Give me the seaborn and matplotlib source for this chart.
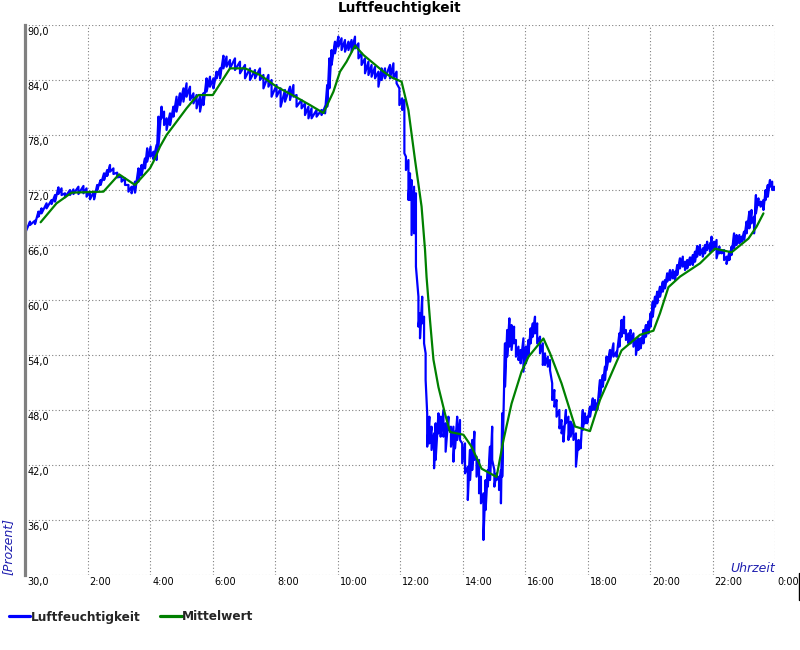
import matplotlib
matplotlib.use("Agg")
import matplotlib.pyplot as plt
from matplotlib.lines import Line2D
import seaborn as sns
import pandas as pd

# ---------------- data ----------------
# Luftfeuchtigkeit: hour of day, upper and lower edge of the noisy trace
blue_hours = [
    0.00, 0.16, 0.32, 0.43, 0.53, 0.69, 0.85, 0.96, 1.07, 1.17, 1.28, 1.44, 1.55, 1.71, 1.87, 1.97,
    2.08, 2.21, 2.31, 2.42, 2.53, 2.63, 2.72, 2.83, 2.95, 3.09, 3.20, 3.31, 3.41, 3.52, 3.63, 3.73,
    3.84, 3.91, 4.02, 4.11, 4.21, 4.27, 4.37, 4.45, 4.53, 4.64, 4.75, 4.85, 4.96, 5.07, 5.17, 5.28,
    5.39, 5.49, 5.60, 5.71, 5.81, 5.92, 6.03, 6.13, 6.24,
    6.35, 6.45, 6.56, 6.72, 6.88, 7.04, 7.20, 7.36, 7.52, 7.63, 7.79, 7.89, 8.05, 8.18, 8.32, 8.48,
    8.59, 8.69, 8.85, 8.96, 9.07, 9.17, 9.33, 9.49, 9.60, 9.67, 9.74, 9.81, 9.92, 10.03, 10.13, 10.24,
    10.35, 10.45, 10.56, 10.67, 10.77, 10.88, 10.99, 11.09, 11.20, 11.31, 11.41, 11.52, 11.68, 11.79,
    11.89, 11.98,
    12.07, 12.14, 12.19, 12.27, 12.32, 12.37, 12.45, 12.51, 12.59, 12.64, 12.71, 12.77, 12.82, 12.87,
    12.94, 13.01, 13.09, 13.14, 13.23, 13.30, 13.39, 13.46, 13.55, 13.63, 13.71, 13.76, 13.83, 13.92,
    13.99, 14.08, 14.17, 14.24, 14.31, 14.38, 14.45, 14.53, 14.59, 14.67, 14.74, 14.81, 14.88, 14.95,
    15.02, 15.09, 15.17, 15.23, 15.27,
    15.36, 15.43, 15.50, 15.57, 15.65, 15.71, 15.79, 15.86, 15.95, 16.03, 16.11, 16.18, 16.25, 16.32,
    16.39, 16.48, 16.57, 16.64, 16.73, 16.80, 16.87, 16.94, 17.01, 17.10, 17.17, 17.23, 17.31, 17.39,
    17.46, 17.55, 17.63, 17.71, 17.78, 17.85, 17.92, 17.99, 18.08, 18.17, 18.24, 18.31, 18.40, 18.49,
    18.56,
    18.61, 18.72, 18.83, 18.93, 19.02, 19.09, 19.17, 19.23, 19.31, 19.38, 19.47, 19.55, 19.63, 19.70,
    19.79, 19.87, 19.95, 20.02, 20.09, 20.16, 20.23, 20.32, 20.41, 20.48, 20.55, 20.64, 20.73, 20.80,
    20.87, 20.96, 21.05, 21.12, 21.19, 21.28, 21.37, 21.44, 21.51, 21.60, 21.69, 21.76, 21.83, 21.92,
    21.97, 22.05, 22.13, 22.22, 22.29, 22.37, 22.45, 22.54, 22.61, 22.69, 22.77, 22.86, 22.93, 23.01,
    23.09, 23.18, 23.25, 23.33, 23.39, 23.47, 23.54, 23.63, 23.70, 23.77, 23.84, 23.91, 23.97,
]
blue_upper = [
    67.82, 68.55, 68.66, 69.64, 70.00, 70.55, 70.91, 71.45, 72.29, 72.18, 71.64, 72.00, 72.07, 72.36, 72.44, 72.18,
    71.82, 71.82, 72.55, 73.09, 73.82, 74.18, 74.73, 74.36, 73.89, 73.45, 73.27, 72.55, 72.36, 72.91, 74.36, 74.73,
    75.45, 76.55, 76.73, 76.18, 76.91, 80.00, 81.09, 80.55, 79.82, 80.36, 81.09, 82.18, 82.55, 83.09, 83.64, 83.27,
    82.55, 82.36, 82.18, 82.55, 84.18, 84.36, 84.18, 84.91, 85.27,
    86.65, 86.55, 86.18, 86.36, 86.00, 85.64, 85.27, 85.09, 85.27, 84.55, 84.55, 84.00, 83.45, 83.09, 82.91, 83.27,
    83.45, 82.36, 81.82, 81.45, 81.09, 80.91, 80.73, 80.73, 81.09, 83.45, 86.36, 87.27, 88.18, 88.73, 88.55, 88.36,
    88.18, 88.36, 88.73, 88.00, 86.91, 86.36, 86.00, 85.64, 85.45, 84.91, 85.27, 85.27, 85.64, 85.82,
    84.91, 83.09,
    82.00, 81.82, 75.64, 75.27, 73.82, 73.09, 72.36, 71.64, 60.36, 58.55, 60.36, 58.18, 54.18, 47.64,
    47.27, 46.18, 45.45, 46.55, 47.64, 47.27, 48.00, 46.55, 47.27, 46.18, 46.18, 45.64, 47.27, 46.91,
    44.36, 44.36, 41.82, 43.64, 44.73, 45.64, 42.91, 42.55, 40.73, 38.91, 40.36, 41.45, 44.00, 46.18,
    41.45, 41.09, 40.73, 41.45, 47.64,
    55.27, 56.73, 58.00, 57.27, 57.09, 55.64, 54.91, 54.55, 55.82, 54.91, 55.64, 56.91, 57.45, 58.18,
    57.45, 56.00, 55.27, 54.18, 53.82, 53.45, 50.91, 50.18, 49.09, 48.00, 46.91, 46.18, 48.00, 47.27,
    46.73, 46.55, 45.45, 44.73, 44.73, 48.00, 47.64, 47.27, 48.36, 49.27, 49.09, 48.73, 51.27, 51.82,
    52.73,
    53.82, 54.55, 55.27, 54.36, 56.36, 57.82, 58.18, 56.73, 56.36, 56.73, 56.36, 55.64, 55.82, 55.82,
    56.73, 57.27, 57.64, 58.55, 59.82, 60.36, 60.91, 61.45, 62.00, 62.18, 62.91, 63.27, 63.27, 63.09,
    63.82, 64.55, 64.73, 64.18, 64.36, 64.65, 64.91, 65.27, 65.89, 66.00, 65.64, 66.00, 66.36, 66.18,
    66.91, 66.36, 66.55, 65.82, 65.45, 65.45, 64.73, 65.27, 65.82, 67.27, 67.09, 67.09, 66.91, 67.45,
    68.55, 69.64, 69.82, 69.09, 71.45, 71.09, 70.73, 70.91, 72.00, 72.55, 73.09, 72.91, 72.36,
]
blue_lower = [
    67.27, 68.18, 68.29, 69.09, 69.45, 70.00, 70.47, 70.73, 71.56, 71.45, 71.20, 71.45, 71.56, 71.56, 71.64, 71.27,
    70.98, 70.98, 72.00, 72.55, 73.09, 73.53, 74.00, 73.75, 73.38, 72.91, 72.55, 71.82, 71.64, 71.71, 72.91, 73.64,
    74.36, 75.09, 75.64, 75.35, 75.27, 76.73, 79.82, 79.09, 78.55, 79.09, 80.00, 80.55, 81.27, 81.64, 82.18, 81.82,
    81.45, 80.91, 80.55, 81.27, 82.73, 83.27, 83.09, 84.18, 84.18,
    85.27, 85.45, 85.27, 85.09, 84.73, 84.18, 84.00, 84.18, 84.00, 83.09, 83.27, 82.18, 82.18, 81.09, 81.64, 81.82,
    82.18, 81.09, 80.91, 80.18, 79.82, 79.82, 80.00, 80.18, 80.36, 81.09, 83.09, 85.64, 86.91, 87.64, 87.27, 87.09,
    87.27, 87.09, 87.45, 86.36, 85.64, 84.73, 84.55, 84.36, 84.18, 83.27, 84.00, 84.18, 84.18, 84.18,
    83.64, 81.27,
    80.73, 76.00, 74.18, 70.91, 70.91, 67.09, 67.27, 63.64, 57.09, 55.82, 57.45, 55.27, 51.27, 44.00,
    44.36, 43.64, 41.64, 42.55, 45.45, 45.09, 45.09, 43.45, 45.82, 44.00, 42.36, 43.82, 44.73, 44.73,
    42.18, 41.09, 38.18, 40.36, 41.45, 42.55, 40.73, 38.91, 37.82, 33.82, 37.09, 39.64, 40.36, 42.55,
    39.64, 40.36, 39.27, 37.82, 40.73,
    50.55, 53.82, 54.91, 54.55, 55.27, 53.82, 53.45, 53.09, 52.18, 53.09, 54.00, 55.27, 56.00, 56.36,
    55.27, 54.18, 52.91, 52.91, 52.73, 52.36, 49.09, 48.36, 47.27, 46.00, 45.45, 44.55, 46.55, 44.73,
    45.09, 44.73, 41.82, 43.64, 43.82, 45.82, 46.55, 46.55, 47.27, 48.00, 48.00, 48.00, 49.45, 50.55,
    51.27,
    52.36, 53.27, 53.82, 53.82, 54.91, 56.00, 56.36, 55.64, 55.27, 55.27, 54.91, 54.00, 54.55, 54.73,
    55.27, 56.00, 56.36, 57.09, 58.18, 59.27, 59.64, 60.36, 60.91, 61.27, 62.00, 62.18, 62.36, 62.18,
    62.73, 63.45, 63.64, 63.27, 63.45, 63.82, 63.82, 64.18, 64.73, 64.91, 64.73, 65.09, 65.45, 65.27,
    65.45, 65.45, 64.55, 65.09, 65.09, 64.36, 63.93, 64.36, 64.91, 65.64, 66.00, 66.18, 66.36, 66.55,
    67.27, 67.82, 68.36, 67.27, 69.45, 70.36, 70.18, 69.82, 70.91, 71.27, 72.36, 72.00, 72.00,
]

# Mittelwert
green_hours = [
    0.50, 1.01, 1.49, 2.51, 3.01, 3.52, 4.00, 4.11, 4.32, 4.53, 4.85, 5.17, 5.39, 5.55, 6.01, 6.56,
    7.04, 7.52, 8.05, 8.59, 9.12, 9.55, 9.87, 10.08, 10.29, 10.56, 10.83, 11.15, 11.47, 11.73, 12.05,
    12.27, 12.48, 12.69, 12.80, 12.85, 12.96, 13.07, 13.23, 13.44, 13.60, 14.03, 14.29, 14.61, 15.09,
    15.31, 15.57, 15.89, 16.11, 16.59, 16.80, 17.17, 17.60, 18.08, 18.40, 19.09, 19.68, 20.11, 20.32,
    20.59, 20.96, 21.60, 22.08, 22.29, 22.61, 23.15, 23.41, 23.63,
]
green_values = [
    68.48, 70.55, 71.71, 71.82, 73.71, 72.55, 74.37, 75.09, 76.73, 78.00, 79.45, 80.91, 81.82, 82.36, 82.36, 85.27,
    85.27, 84.55, 83.27, 82.29, 81.27, 80.40, 82.73, 84.91, 86.00, 87.75, 86.73, 85.82, 84.91, 84.29, 83.82,
    80.70, 75.30, 70.20, 65.50, 62.50, 57.80, 53.50, 50.50, 47.60, 45.60, 45.30, 44.00, 41.60, 40.70,
    44.70, 48.70, 52.20, 53.80, 55.80, 54.20, 50.90, 46.20, 45.70, 49.10, 54.50, 56.20, 56.65, 58.55,
    61.40, 62.55, 64.00, 65.60, 65.45, 65.20, 66.70, 68.00, 69.45,
]

y_ticks = [30, 36, 42, 48, 54, 60, 66, 72, 78, 84, 90]
x_ticks = [0, 2, 4, 6, 8, 10, 12, 14, 16, 18, 20, 22, 24]
x_tick_labels = ["", "2:00", "4:00", "6:00", "8:00", "10:00", "12:00", "14:00",
                 "16:00", "18:00", "20:00", "22:00", "0:00"]

title = "Luftfeuchtigkeit"
series_names = ["Luftfeuchtigkeit", "Mittelwert"]

# ---------------- build long-form tables ----------------
rows_h, rows_v = [], []
for h, up, lo in zip(blue_hours, blue_upper, blue_lower):
    for v in (up, lo):
        rows_h.append(h)
        rows_v.append(v)
df_blue = pd.DataFrame({"Uhrzeit": rows_h, "Wert": rows_v})
df_green = pd.DataFrame({"Uhrzeit": green_hours, "Wert": green_values})

# ---------------- figure ----------------
sns.set_style("white")
plt.rcParams["font.family"] = ["DejaVu Sans"]

fig = plt.figure(figsize=(8, 6.5), dpi=100)
ax = fig.add_axes([25 / 800, 1 - 575 / 650, 750 / 800, 550 / 650])

BLUE = "#0000ff"
GREEN = "#008000"
LABEL_BLUE = "#2020b0"

sns.lineplot(data=df_blue, x="Uhrzeit", y="Wert", estimator=None, sort=False,
             color=BLUE, linewidth=1.6, ax=ax, label=series_names[0])
sns.lineplot(data=df_green, x="Uhrzeit", y="Wert", estimator=None, sort=False,
             color=GREEN, linewidth=1.6, ax=ax, label=series_names[1])

ax.set_xlim(0, 24)
ax.set_ylim(30, 90)
ax.set_xticks(x_ticks)
ax.set_yticks(y_ticks)
ax.tick_params(left=False, bottom=False, labelleft=False, labelbottom=False)
ax.set_xlabel("")
ax.set_ylabel("")
ax.grid(True, color="#808080", linestyle=(0, (1, 2)), linewidth=0.8)
ax.set_axisbelow(True)
for s in ["top", "right", "bottom"]:
    ax.spines[s].set_visible(False)
ax.spines["left"].set_color("#808080")
ax.spines["left"].set_linewidth(2.3)
ax.get_legend().remove()

# tick labels (inside / below, left aligned as in reference)
for y in y_ticks:
    ax.annotate(f"{y:.1f}".replace(".", ","), xy=(0, y), xycoords=("axes fraction", "data"),
                xytext=(1.5, -1.5), textcoords="offset points", ha="left", va="top",
                fontsize=7, color="black", annotation_clip=False)
for x, lab in zip(x_ticks, x_tick_labels):
    if lab:
        ax.annotate(lab, xy=(x, 0), xycoords=("data", "axes fraction"),
                    xytext=(1.5, -1.5), textcoords="offset points", ha="left", va="top",
                    fontsize=7, color="black", annotation_clip=False)

# axis captions
ax.text(1.0, 0.0, "Uhrzeit", transform=ax.transAxes, ha="right", va="bottom",
        fontsize=9, style="italic", color=LABEL_BLUE)
fig.text(8 / 800, 1 - 575 / 650, "[Prozent]", rotation=90, ha="center", va="bottom",
         fontsize=9, style="italic", color=LABEL_BLUE)

fig.text(0.5, 1 - 1 / 650, title, ha="center", va="top", fontsize=9.8,
         fontweight="bold", color="black")

handles = [Line2D([], [], color=BLUE, linewidth=2.3),
           Line2D([], [], color=GREEN, linewidth=2.3)]
leg = fig.legend(handles, series_names, loc="center left",
                 bbox_to_anchor=(9 / 800, 1 - 617 / 650), ncol=2, frameon=False,
                 prop={"weight": "bold", "size": 8.7}, handlelength=1.75,
                 handletextpad=0.05, columnspacing=1.65, borderpad=0, borderaxespad=0)

fig.add_artist(Line2D([799 / 800, 799 / 800], [1 - 573 / 650, 1 - 600 / 650],
                      color="black", linewidth=1))

fig.savefig("out.png", dpi=100)
